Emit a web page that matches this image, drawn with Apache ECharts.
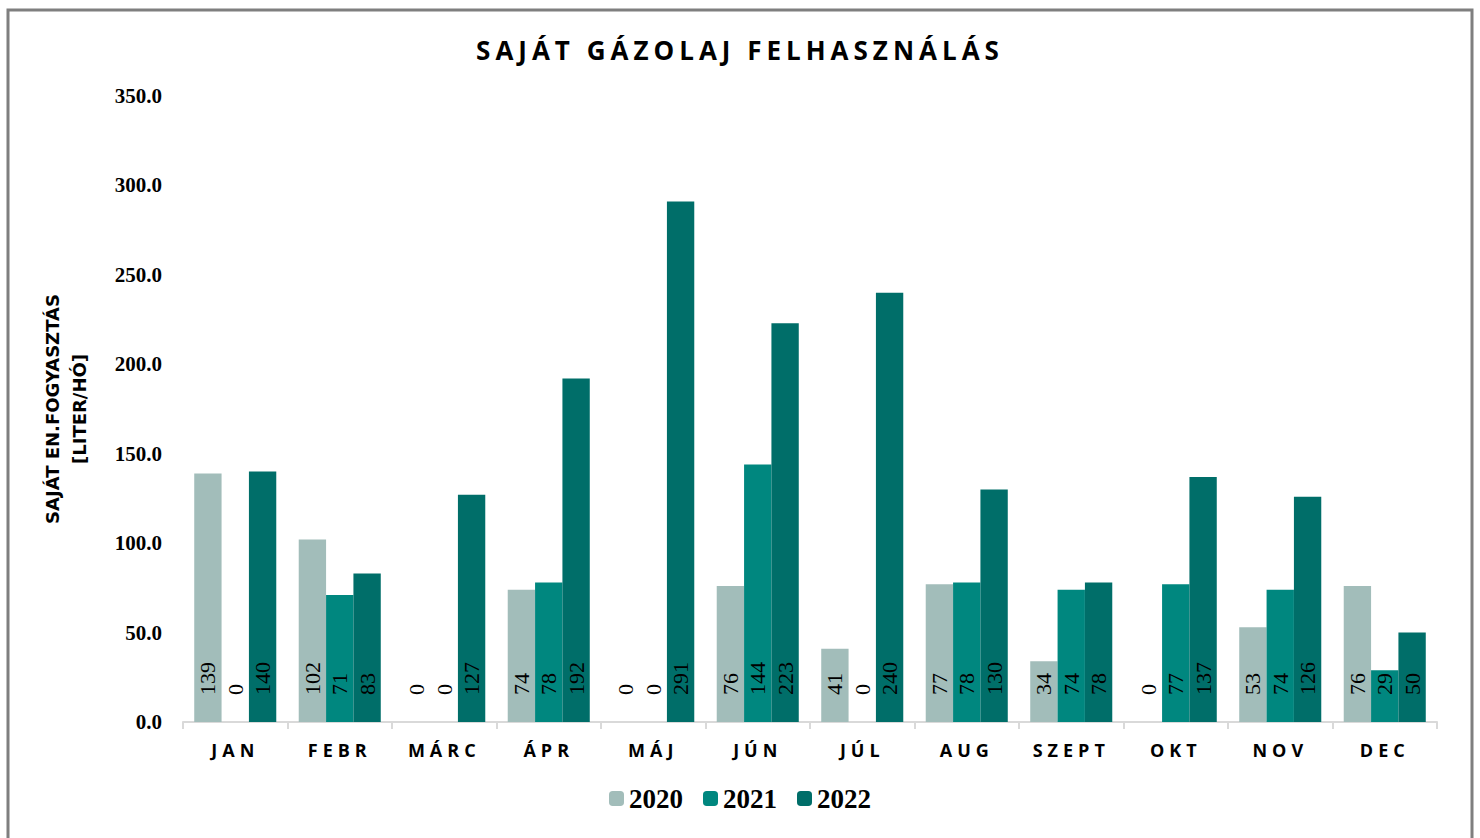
<!DOCTYPE html>
<html>
<head>
<meta charset="utf-8">
<script src="https://cdn.jsdelivr.net/npm/echarts@6/dist/echarts.min.js"></script>
<style>
  html, body { margin: 0; padding: 0; background: #fff; }
  #main { width: 1480px; height: 838px; }
  /* spaced caps for title and month names */
  #main text[style*="Open Sans"] { letter-spacing: 5px; }
</style>
</head>
<body>
<div id="main"></div>
<script>
var months = ["JAN", "FEBR", "MÁRC", "ÁPR", "MÁJ", "JÚN", "JÚL", "AUG", "SZEPT", "OKT", "NOV", "DEC"];
var years = ["2020", "2021", "2022"];
var v2020 = [139, 102, 0, 74, 0, 76, 41, 77, 34, 0, 53, 76];
var v2021 = [0, 71, 0, 78, 0, 144, 0, 78, 74, 77, 74, 29];
var v2022 = [140, 83, 127, 192, 291, 223, 240, 130, 78, 137, 126, 50];
var colors = ["#A2BDBA", "#00877F", "#006E69"];

var myChart = echarts.init(document.getElementById('main'), null, { renderer: 'svg' });

function barSeries(name, data, color) {
    return {
        name: name,
        type: 'bar',
        barGap: '0%',
        barCategoryGap: '21.5%',
        itemStyle: { color: color },
        label: {
            show: true,
            position: 'insideBottom',
            rotate: 90,
            align: 'left',
            verticalAlign: 'middle',
            distance: 27,
            color: '#000',
            fontFamily: 'Liberation Serif',
            fontSize: 22,
            formatter: function (p) { return Math.round(p.value); }
        },
        data: data
    };
}

var option = {
    backgroundColor: '#fff',
    animation: false,
    title: {
        text: 'SAJÁT GÁZOLAJ FELHASZNÁLÁS',
        left: 'center',
        top: 32,
        textStyle: { fontFamily: 'Open Sans', fontWeight: 'bold', fontSize: 26, color: '#000' }
    },
    legend: {
        data: years,
        bottom: 21,
        left: 'center',
        itemWidth: 15,
        itemHeight: 15,
        itemGap: 20,
        textStyle: { fontFamily: 'Liberation Serif', fontWeight: 'bold', fontSize: 27, color: '#000' }
    },
    grid: { left: 183, right: 43, top: 96, bottom: 116 },
    xAxis: {
        type: 'category',
        data: months,
        axisLine: { lineStyle: { color: '#D9D9D9', width: 2 } },
        axisTick: { show: true, length: 7, lineStyle: { color: '#D9D9D9', width: 2 } },
        axisLabel: {
            margin: 19,
            fontFamily: 'Open Sans',
            fontWeight: 'bold',
            fontSize: 18,
            color: '#000'
        }
    },
    yAxis: {
        type: 'value',
        min: 0,
        max: 350,
        interval: 50,
        name: 'SAJÁT EN.FOGYASZTÁS\n[LITER/HÓ]',
        nameLocation: 'middle',
        nameGap: 90,
        nameRotate: 90,
        nameTextStyle: { fontFamily: 'DejaVu Sans', fontWeight: 'bold', fontSize: 18, color: '#000', lineHeight: 27 },
        axisLine: { show: false },
        axisTick: { show: false },
        splitLine: { show: false },
        axisLabel: {
            margin: 21,
            fontFamily: 'Liberation Serif',
            fontWeight: 'bold',
            fontSize: 21,
            color: '#000',
            formatter: function (v) { return v.toFixed(1); }
        }
    },
    graphic: [{
        type: 'rect',
        shape: { x: 8, y: 10, width: 1464, height: 840 },
        style: { fill: 'none', stroke: '#7F7F7F', lineWidth: 3 },
        silent: true
    }],
    series: [
        barSeries(years[0], v2020, colors[0]),
        barSeries(years[1], v2021, colors[1]),
        barSeries(years[2], v2022, colors[2])
    ]
};

myChart.setOption(option);
window.onresize = myChart.resize;
</script>
</body>
</html>
